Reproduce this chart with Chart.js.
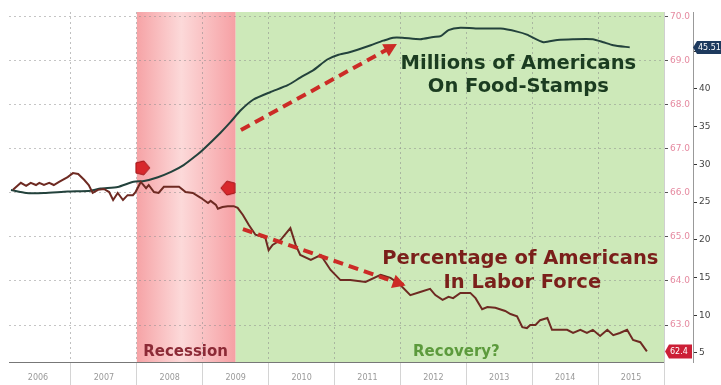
<!DOCTYPE html>
<html>
<head>
<meta charset="utf-8">
<script src="https://cdn.jsdelivr.net/npm/chart.js@4.4.1/dist/chart.umd.min.js"></script>
<style>
  html, body { margin: 0; padding: 0; background: #fff; }
  canvas { display: block; }
</style>
</head>
<body>
<canvas id="chart" width="721" height="385"></canvas>
<script>
const YEARS = [2006, 2007, 2008, 2009, 2010, 2011, 2012, 2013, 2014, 2015];
const RECESSION = [2008.0, 2009.5];

// food stamps, millions (outer right axis)
const FOOD_X = [2006.09, 2006.32, 2006.59, 2006.95, 2007.30, 2007.45, 2007.71, 2007.95, 2008.11, 2008.32,
    2008.52, 2008.71, 2008.92, 2009.00, 2009.27, 2009.42, 2009.58, 2009.77, 2010.03, 2010.29,
    2010.48, 2010.68, 2010.89, 2011.05, 2011.20, 2011.35, 2011.55, 2011.74, 2011.89, 2012.03,
    2012.30, 2012.50, 2012.61, 2012.73, 2012.91, 2013.21, 2013.52, 2013.77, 2013.92, 2014.17,
    2014.38, 2014.62, 2014.92, 2015.08, 2015.23, 2015.48];
const FOOD_Y = [26.6, 26.2, 26.2, 26.4, 26.5, 26.8, 27.0, 27.7, 27.8, 28.3,
    29.0, 29.9, 31.3, 31.9, 34.2, 35.6, 37.2, 38.6, 39.6, 40.5,
    41.5, 42.5, 43.9, 44.5, 44.8, 45.2, 45.8, 46.4, 46.8, 46.8,
    46.6, 46.9, 47.0, 47.8, 48.1, 48.0, 48.0, 47.6, 47.2, 46.2,
    46.5, 46.6, 46.6, 46.2, 45.8, 45.51];

// labor force participation, % (inner right axis)
const LABOR_X = [2006.12, 2006.24, 2006.32, 2006.39, 2006.47, 2006.52, 2006.59, 2006.67, 2006.74, 2006.82,
    2006.95, 2007.03, 2007.11, 2007.20, 2007.27, 2007.33, 2007.41, 2007.50, 2007.58, 2007.64,
    2007.71, 2007.79, 2007.86, 2007.94, 2007.98, 2008.06, 2008.14, 2008.18, 2008.26, 2008.33,
    2008.41, 2008.64, 2008.74, 2008.85, 2008.97, 2009.08, 2009.12, 2009.20, 2009.23, 2009.30,
    2009.38, 2009.47, 2009.53, 2009.61, 2009.70, 2009.80, 2009.95, 2010.00, 2010.06, 2010.18,
    2010.33, 2010.41, 2010.48, 2010.64, 2010.79, 2010.94, 2011.09, 2011.24, 2011.47, 2011.70,
    2011.85, 2012.00, 2012.15, 2012.30, 2012.45, 2012.53, 2012.64, 2012.73, 2012.80, 2012.91,
    2013.06, 2013.14, 2013.24, 2013.32, 2013.44, 2013.59, 2013.67, 2013.77, 2013.85, 2013.92,
    2013.97, 2014.05, 2014.12, 2014.23, 2014.30, 2014.42, 2014.53, 2014.62, 2014.73, 2014.83,
    2014.92, 2015.03, 2015.14, 2015.23, 2015.33, 2015.44, 2015.53, 2015.64, 2015.74];
const LABOR_Y = [66.07, 66.23, 66.16, 66.23, 66.18, 66.23, 66.18, 66.23, 66.18, 66.25,
    66.36, 66.45, 66.43, 66.30, 66.18, 66.00, 66.07, 66.09, 66.02, 65.84,
    66.00, 65.84, 65.95, 65.95, 66.02, 66.25, 66.11, 66.18, 66.02, 66.00,
    66.14, 66.14, 66.02, 66.00, 65.89, 65.77, 65.82, 65.73, 65.64, 65.68,
    65.70, 65.70, 65.66, 65.50, 65.27, 65.05, 64.98, 64.70, 64.82, 64.93,
    65.20, 64.82, 64.59, 64.48, 64.59, 64.25, 64.02, 64.02, 63.98, 64.14,
    64.07, 63.91, 63.68, 63.75, 63.82, 63.68, 63.57, 63.64, 63.61, 63.73,
    63.73, 63.61, 63.36, 63.41, 63.39, 63.32, 63.25, 63.20, 62.95, 62.93,
    63.00, 63.00, 63.11, 63.16, 62.89, 62.89, 62.89, 62.82, 62.89, 62.82,
    62.89, 62.75, 62.89, 62.77, 62.82, 62.89, 62.66, 62.61, 62.40];

const FLAG_X = [2008.09, 2009.38];
const FLAG_Y = [66.57, 66.11];
const UP_ARROW_X = [2009.58, 2011.92];
const UP_ARROW_Y = [67.43, 69.36];
const DOWN_ARROW_X = [2009.61, 2012.05];
const DOWN_ARROW_Y = [65.18, 63.91];

const LABOR_TICKS = [63, 64, 65, 66, 67, 68, 69, 70];
const FOOD_TICKS = [5, 10, 15, 20, 25, 30, 35, 40, 45];

const LABELS = [
    { text: 'Millions of Americans', x: 2013.79, y: 68.93, color: '#1b3c20', size: 19.5 },
    { text: 'On Food-Stamps', x: 2013.79, y: 68.41, color: '#1b3c20', size: 19.5 },
    { text: 'Percentage of Americans', x: 2013.82, y: 64.50, color: '#7a1f1a', size: 19.5 },
    { text: 'In Labor Force', x: 2013.85, y: 63.95, color: '#7a1f1a', size: 19.5 },
    { text: 'Recession', x: 2008.74, y: 62.39, color: '#8c2a36', size: 15 },
    { text: 'Recovery?', x: 2012.85, y: 62.39, color: '#5c9a3c', size: 15 }
];

const pts = (xs, ys) => xs.map((x, i) => ({ x: x, y: ys[i] }));

function flagIcon(pointRight) {
    const c = document.createElement('canvas');
    c.width = 16; c.height = 16;
    const g = c.getContext('2d');
    const shape = pointRight
        ? [[1, 3], [9, 1], [15, 8], [9, 15], [1, 13]]
        : [[15, 3], [7, 1], [1, 8], [7, 15], [15, 13]];
    g.beginPath();
    shape.forEach((p, i) => i ? g.lineTo(p[0], p[1]) : g.moveTo(p[0], p[1]));
    g.closePath();
    g.fillStyle = '#d8282c';
    g.fill();
    g.strokeStyle = '#a01416';
    g.lineWidth = 1;
    g.stroke();
    return c;
}

// pink recession band + green recovery band behind the grid
const bandPlugin = {
    id: 'bands',
    beforeDraw(chart) {
        const { ctx, chartArea: a, scales: { x } } = chart;
        const x0 = x.getPixelForValue(RECESSION[0]);
        const x1 = x.getPixelForValue(RECESSION[1]);
        const grad = ctx.createLinearGradient(x0, 0, x1, 0);
        grad.addColorStop(0, '#f6a3a6');
        grad.addColorStop(0.45, '#fcd9d9');
        grad.addColorStop(1, '#f6a0a4');
        ctx.save();
        ctx.fillStyle = grad;
        ctx.fillRect(x0, a.top, x1 - x0, a.bottom - a.top);
        ctx.fillStyle = '#cde9b9';
        ctx.fillRect(x1, a.top, a.right - x1, a.bottom - a.top);
        ctx.restore();
    }
};

// arrow heads on the dashed arrows
const arrowPlugin = {
    id: 'arrows',
    afterDatasetsDraw(chart) {
        const ctx = chart.ctx;
        chart.data.datasets.forEach((ds, i) => {
            if (!ds.arrow) return;
            const el = chart.getDatasetMeta(i).data;
            const a = el[el.length - 2], b = el[el.length - 1];
            const ang = Math.atan2(b.y - a.y, b.x - a.x);
            ctx.save();
            ctx.translate(b.x, b.y);
            ctx.rotate(ang);
            ctx.beginPath();
            ctx.moveTo(2, 0);
            ctx.lineTo(-11, -7);
            ctx.lineTo(-11, 7);
            ctx.closePath();
            ctx.fillStyle = ds.borderColor;
            ctx.fill();
            ctx.restore();
        });
    }
};

const textPlugin = {
    id: 'texts',
    afterDatasetsDraw(chart) {
        const { ctx, scales: { x, yLf } } = chart;
        ctx.save();
        ctx.textAlign = 'center';
        ctx.textBaseline = 'middle';
        LABELS.forEach(l => {
            ctx.font = 'bold ' + l.size + 'px "DejaVu Sans"';
            ctx.fillStyle = l.color;
            ctx.fillText(l.text, x.getPixelForValue(l.x), yLf.getPixelForValue(l.y));
        });
        ctx.restore();
    }
};

function tag(ctx, x0, x1, yc, h, fill, text) {
    ctx.beginPath();
    ctx.moveTo(x0, yc);
    ctx.lineTo(x0 + 4, yc - h / 2);
    ctx.lineTo(x1, yc - h / 2);
    ctx.lineTo(x1, yc + h / 2);
    ctx.lineTo(x0 + 4, yc + h / 2);
    ctx.closePath();
    ctx.fillStyle = fill;
    ctx.fill();
    ctx.fillStyle = '#fff';
    ctx.font = '8px "DejaVu Sans"';
    ctx.textAlign = 'left';
    ctx.textBaseline = 'middle';
    ctx.fillText(text, x0 + 5, yc + 0.5);
}

const badgePlugin = {
    id: 'badges',
    afterDraw(chart) {
        const { ctx, scales: { yLf, yFs } } = chart;
        ctx.save();
        const fLast = FOOD_Y[FOOD_Y.length - 1];
        const lLast = LABOR_Y[LABOR_Y.length - 1];
        tag(ctx, yFs.left, chart.width, yFs.getPixelForValue(fLast), 13, '#1e3a5e', fLast.toFixed(2));
        tag(ctx, yLf.left + 1, yLf.right - 1, yLf.getPixelForValue(lLast), 14, '#cc1f36', lLast.toFixed(1));
        ctx.restore();
    }
};

const ctx = document.getElementById('chart').getContext('2d');
new Chart(ctx, {
    type: 'line',
    data: {
        datasets: [
            {
                type: 'scatter',
                data: pts(FLAG_X, FLAG_Y),
                yAxisID: 'yLf',
                pointStyle: [flagIcon(true), flagIcon(false)],
                pointRadius: 8
            },
            {
                data: pts(UP_ARROW_X, UP_ARROW_Y),
                yAxisID: 'yLf',
                arrow: true,
                borderColor: '#cc2b26',
                borderWidth: 4,
                borderDash: [10, 6],
                pointRadius: 0
            },
            {
                data: pts(DOWN_ARROW_X, DOWN_ARROW_Y),
                yAxisID: 'yLf',
                arrow: true,
                borderColor: '#cc2b26',
                borderWidth: 4,
                borderDash: [10, 6],
                pointRadius: 0
            },
            {
                data: pts(LABOR_X, LABOR_Y),
                yAxisID: 'yLf',
                borderColor: '#6e2a22',
                borderWidth: 2,
                pointRadius: 0,
                tension: 0
            },
            {
                data: pts(FOOD_X, FOOD_Y),
                yAxisID: 'yFs',
                borderColor: '#23423c',
                borderWidth: 2,
                pointRadius: 0,
                tension: 0.2
            }
        ]
    },
    options: {
        responsive: false,
        animation: false,
        devicePixelRatio: 1,
        layout: { padding: { left: 8, top: 12, right: 0, bottom: 0 } },
        plugins: {
            legend: { display: false },
            tooltip: { enabled: false }
        },
        scales: {
            x: {
                type: 'linear',
                min: 2006.06,
                max: 2016,
                afterBuildTicks: s => {
                    s.ticks = YEARS.flatMap(y => [{ value: y }, { value: y + 0.5 }])
                        .concat([{ value: 2016 }])
                        .filter(t => t.value >= s.min && t.value <= s.max);
                },
                afterFit: s => { s.height = 23; },
                grid: {
                    color: c => Number.isInteger(c.tick.value) ? 'rgba(140,140,140,0.55)' : 'rgba(0,0,0,0)',
                    tickColor: c => Number.isInteger(c.tick.value) ? '#d4d4d4' : 'rgba(0,0,0,0)',
                    tickLength: 23,
                    tickBorderDash: []
                },
                border: { color: '#777', dash: [2, 3] },
                ticks: {
                    autoSkip: false,
                    maxRotation: 0,
                    padding: -12,
                    color: '#999',
                    font: { size: 8, family: 'DejaVu Sans' },
                    callback: v => Number.isInteger(v) ? '' : String(Math.floor(v))
                }
            },
            yLf: {
                position: 'right',
                weight: 0,
                min: 62.16,
                max: 70.11,
                afterBuildTicks: s => { s.ticks = LABOR_TICKS.map(v => ({ value: v })); },
                afterFit: s => { s.width = 29; },
                grid: {
                    color: 'rgba(140,140,140,0.5)',
                    tickColor: '#555',
                    tickLength: 4,
                    tickBorderDash: []
                },
                border: { color: '#cfcfcf', dash: [2, 3] },
                ticks: {
                    padding: 2,
                    color: '#e58aa0',
                    font: { size: 9, family: 'DejaVu Sans' },
                    callback: v => v.toFixed(1)
                }
            },
            yFs: {
                position: 'right',
                weight: 1,
                min: 3.8,
                max: 50.2,
                afterBuildTicks: s => { s.ticks = FOOD_TICKS.map(v => ({ value: v })); },
                afterFit: s => { s.width = 28; },
                grid: {
                    drawOnChartArea: false,
                    tickColor: '#333',
                    tickLength: 4
                },
                border: { color: '#999' },
                ticks: {
                    padding: 2,
                    color: '#444',
                    font: { size: 9, family: 'DejaVu Sans' },
                    callback: v => String(v)
                }
            }
        }
    },
    plugins: [bandPlugin, arrowPlugin, textPlugin, badgePlugin]
});
</script>
</body>
</html>
